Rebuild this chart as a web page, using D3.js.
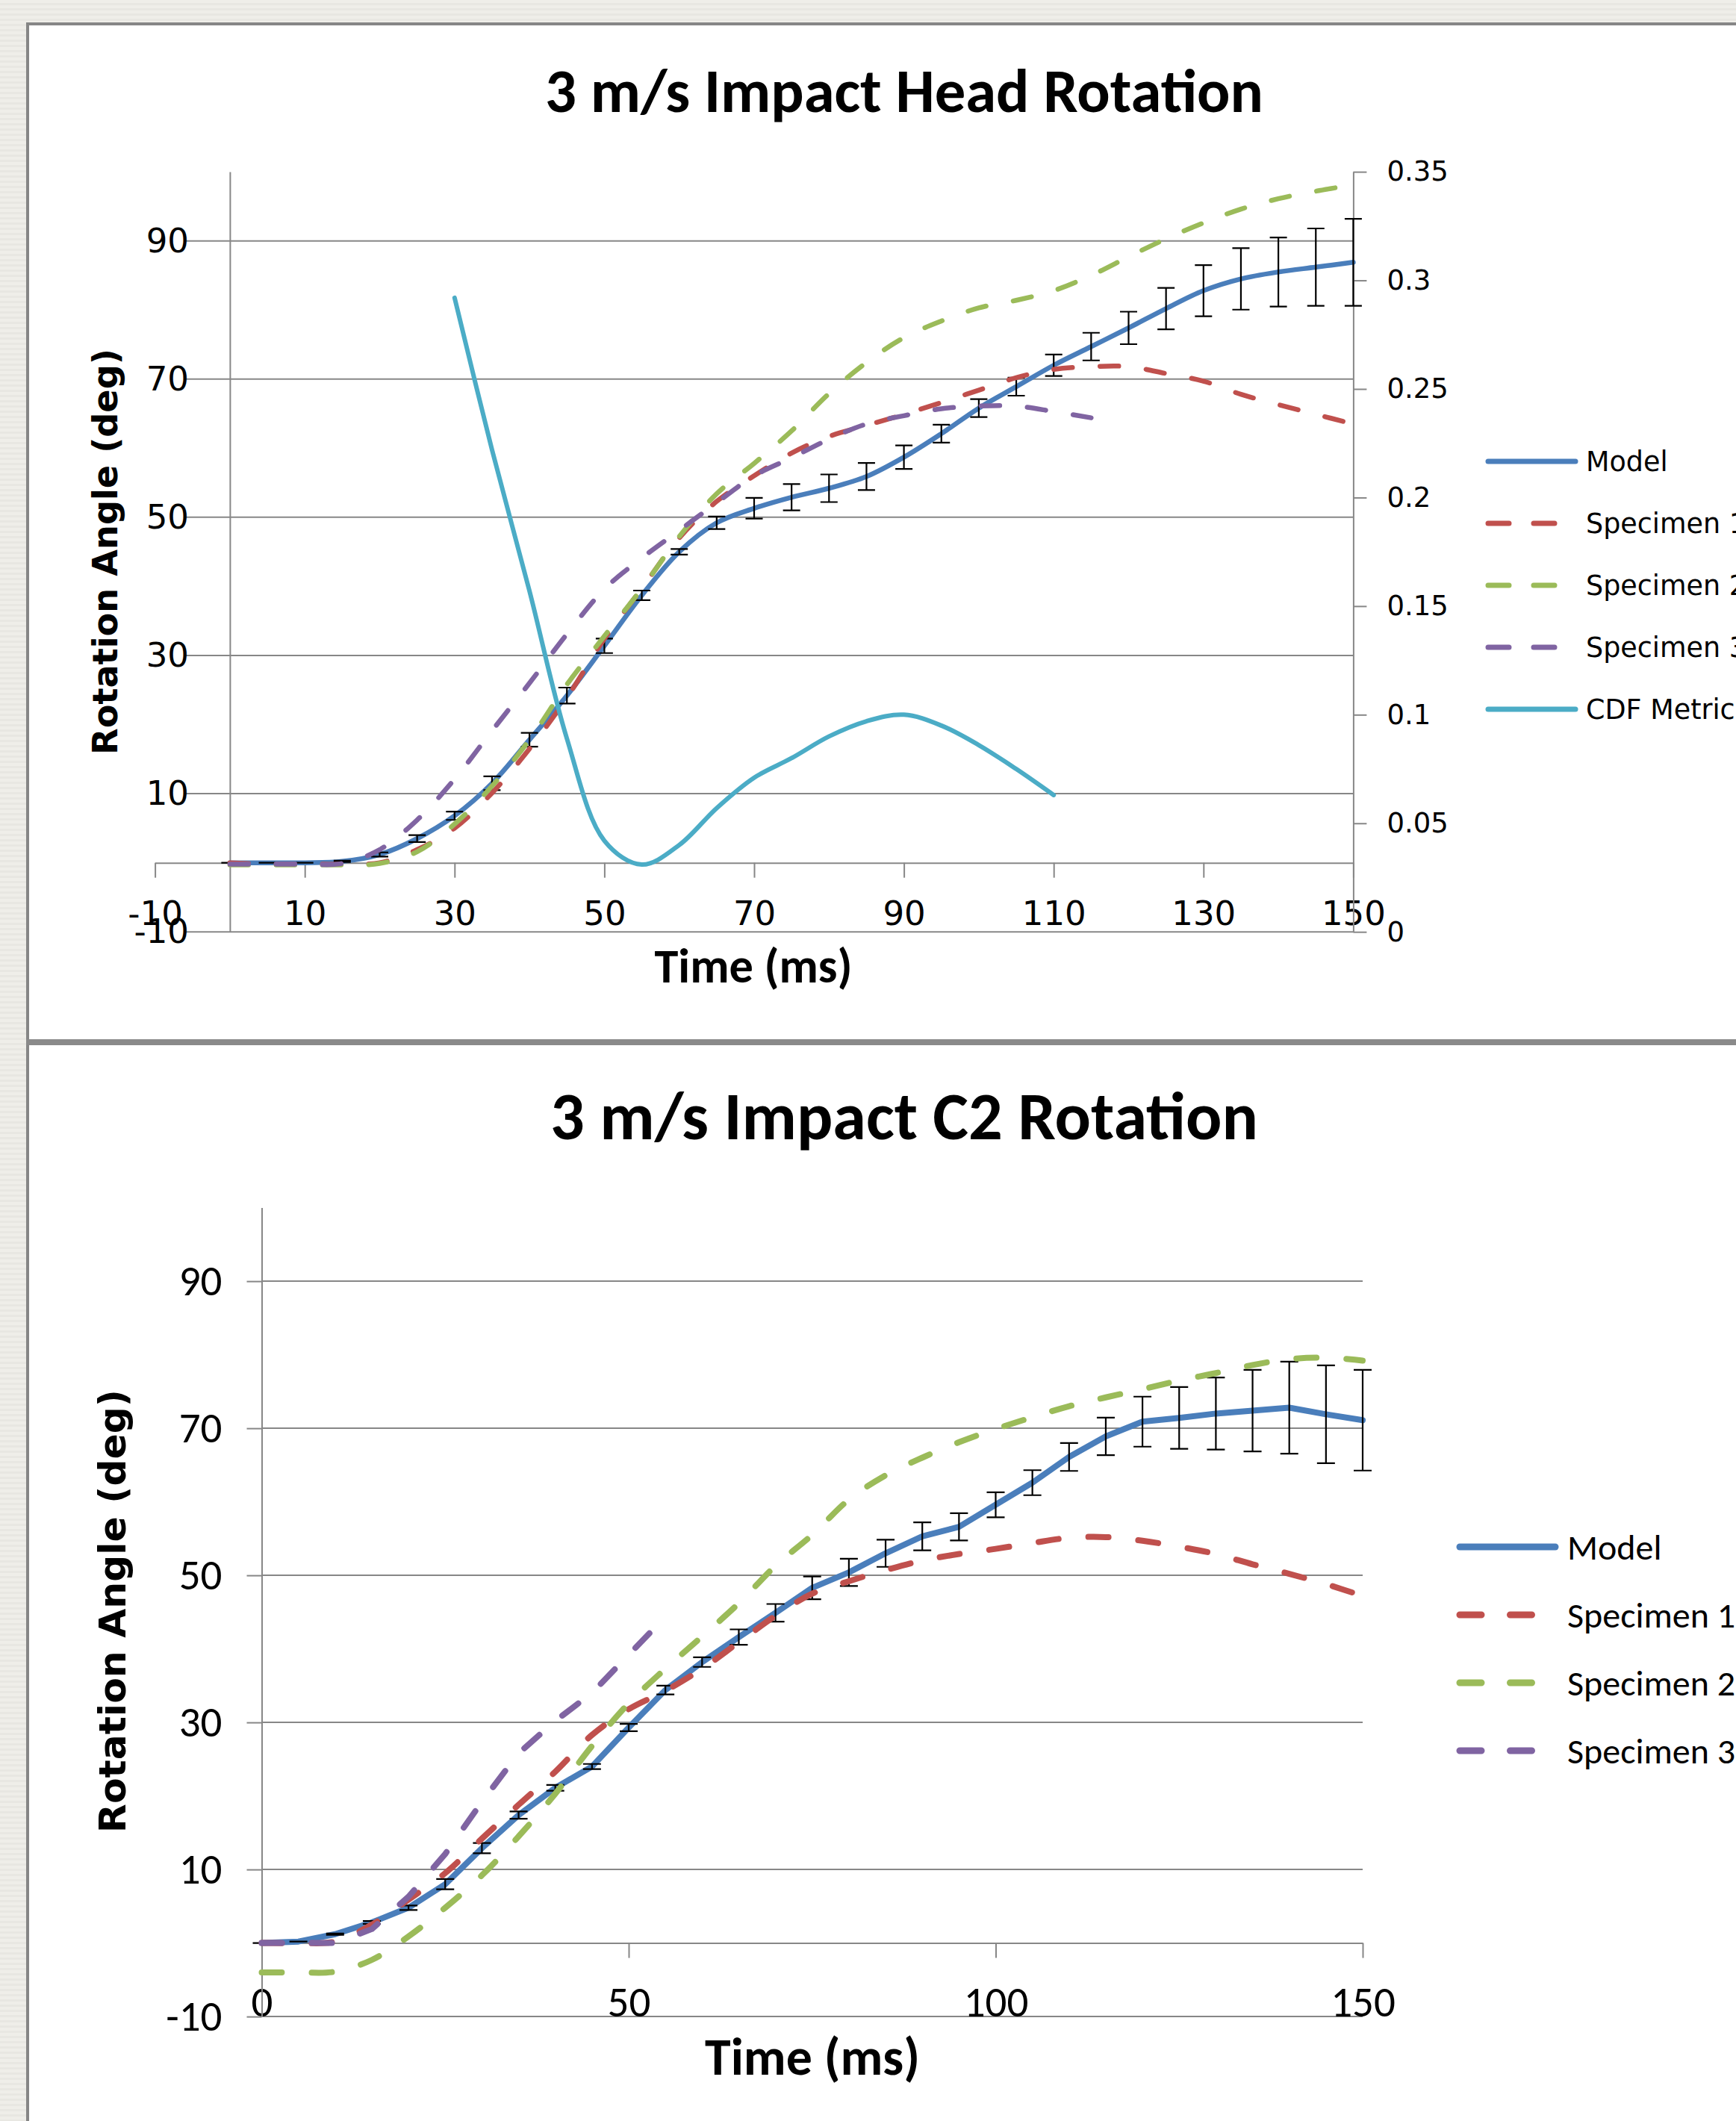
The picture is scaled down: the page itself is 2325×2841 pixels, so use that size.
<!DOCTYPE html>
<html>
<head>
<meta charset="utf-8">
<script src="https://cdn.jsdelivr.net/npm/d3@7"></script>
<style>
  html, body { margin: 0; padding: 0; background: #edece7; }
  svg { display: block; }
</style>
</head>
<body>
<svg id="chart" width="2325" height="2841"></svg>
<script>
// ---- Data: 3 m/s impact, head rotation (top chart) ----
var headTime = [0,5,10,15,20,25,30,35,40,45,50,55,60,65,70,75,80,85,90,95,100,105,110,115,120,125,130,135,140,145,150];
var headModel = [0,0,0,0.2,1.2,3.5,6.8,11.5,17.8,24.2,31.4,38.7,45,49.2,51.3,52.9,54.2,55.9,58.7,62.1,65.8,68.9,72,74.7,77.4,80.2,82.8,84.5,85.5,86.2,86.9];
var headModelErr = [0,0,0,0.1,0.3,0.5,0.6,1,1,1.15,1.05,0.7,0.4,0.9,1.5,1.9,2,1.95,1.7,1.3,1.3,1.3,1.55,2,2.35,3,3.7,4.45,5,5.6,6.3];
var headSpec1 = [0,-0.2,-0.2,-0.2,0,1.9,5,10.1,16.5,23.9,32.4,39.7,47,52.3,56,59.3,61.7,63.3,64.9,66.6,68.4,70.2,71.4,71.8,71.8,70.8,69.7,67.8,66.3,64.9,63.5];
var headSpec2 = [-0.3,-0.3,-0.3,-0.3,-0.1,1.6,5.6,11.1,17.8,25.8,32.8,39.7,47.2,53.4,57.8,62.5,67.9,72.4,76,78.4,80.3,81.4,82.8,85,87.7,90.3,92.6,94.6,96.1,97.2,98.1];
var headSpec3Time = [0,5,10,15,20,25,30,35,40,45,50,55,60,65,70,75,80,85,90,95,100,105,110,115];
var headSpec3 = [-0.2,-0.2,-0.2,-0.1,1.9,6.2,12.1,19.1,26,33.1,39.6,44.1,48.1,52.1,56,58.6,61.3,63.5,64.7,65.7,66.1,66.1,65.3,64.4];
var cdfTime = [30,35,40,45,50,55,60,65,70,75,80,85,90,95,100,105,110];
var cdfMetric = [0.292,0.222,0.157,0.089,0.042,0.031,0.040,0.057,0.071,0.080,0.090,0.097,0.100,0.095,0.086,0.075,0.063];

var headXTicks = [-10,10,30,50,70,90,110,130,150];
var headYTicks = [-10,10,30,50,70,90];
var cdfTicks = [0,0.05,0.1,0.15,0.2,0.25,0.3,0.35];
var headLegend = ["Model","Specimen 1","Specimen 2","Specimen 3","CDF Metric"];

// ---- Data: 3 m/s impact, C2 rotation (bottom chart) ----
var c2Time = [0,5,10,15,20,25,30,35,40,45,50,55,60,65,70,75,80,85,90,95,100,105,110,115,120,125,130,135,140,145,150];
var c2Model = [0,0.2,1.2,2.8,4.8,8,12.9,17.4,21.1,24,29.3,34.4,38.2,41.6,44.9,48.3,50.4,53,55.3,56.6,59.6,62.6,66.1,68.9,70.9,71.4,72,72.4,72.8,71.9,71.1];
var c2ModelErr = [0,0,0.1,0.2,0.3,0.7,0.7,0.5,0.4,0.35,0.5,0.6,0.65,1.05,1.2,1.55,1.85,1.85,1.9,1.85,1.7,1.7,1.9,2.55,3.4,4.2,4.9,5.55,6.25,6.65,6.85];
var c2Spec1 = [0,0,0.2,2.5,5.9,9.5,14.2,18.8,23.3,28.3,31.8,34.3,37.3,40.9,44.5,47.5,49.2,50.7,52,52.9,53.6,54.4,55.1,55.2,54.7,53.9,52.9,51.5,50.2,48.8,47.2];
var c2Spec2 = [-4,-4,-3.9,-2.3,0.9,4.8,9.2,14.5,20.3,26.8,32.6,37.3,41.7,46.2,51.3,55.5,60.3,63.6,66,68.1,69.9,71.5,73,74.2,75.3,76.5,77.5,78.6,79.4,79.6,79.2];
var c2Spec3Time = [0,5,10,15,20,25,30,35,40,45,50,53];
var c2Spec3 = [0,0,0,1.9,6.3,12.1,19.2,25.8,30.2,34,39.2,42.3];

var c2XTicks = [0,50,100,150];
var c2YTicks = [-10,10,30,50,70,90];
var c2Legend = ["Model","Specimen 1","Specimen 2","Specimen 3"];

// ---- Styles ----
var colors = {model: "#4a7ebb", spec1: "#c0504d", spec2: "#9bbb59", spec3: "#8064a2", cdf: "#4bacc6"};
var GRID = "#878787";
var CAL = "Carlito, Lato, 'Open Sans', sans-serif";
var VER = "'DejaVu Sans', Verdana, sans-serif";
var plain = d => String(d);   // keep the hyphen minus like the original

var svg = d3.select("#chart");

// page background + frame
var defs = svg.append("defs");
var pat = defs.append("pattern").attr("id", "bg").attr("width", 8).attr("height", 7)
    .attr("patternUnits", "userSpaceOnUse");
pat.append("rect").attr("width", 8).attr("height", 7).attr("fill", "#efeee9");
pat.append("rect").attr("y", 4).attr("width", 8).attr("height", 3).attr("fill", "#e8e7e2");
svg.append("rect").attr("width", 2325).attr("height", 2841).attr("fill", "url(#bg)");
svg.append("rect").attr("x", 39).attr("y", 34).attr("width", 2286).attr("height", 2807).attr("fill", "#fff");
svg.append("rect").attr("x", 35).attr("y", 30).attr("width", 2290).attr("height", 4).attr("fill", "#868686");
svg.append("rect").attr("x", 35).attr("y", 30).attr("width", 4).attr("height", 2811).attr("fill", "#868686");
svg.append("rect").attr("x", 35).attr("y", 1392).attr("width", 2290).attr("height", 8).attr("fill", "#8a8a8a");

// scale a text's font-size so that it spans w pixels
function fitWidth(t, w) {
  var len = t.node().getComputedTextLength();
  t.attr("font-size", parseFloat(t.attr("font-size")) * w / len);
  return t;
}

function styleAxis(a, font, size) {
  a.selectAll(".domain, .tick line").attr("stroke", GRID).attr("stroke-width", 2);
  a.selectAll("text").attr("font-family", font).attr("font-size", size).attr("fill", "#000");
}

function drawLine(g, x, y, xs, ys, color, width, dash, curve) {
  var line = d3.line().x(d => x(d[0])).y(d => y(d[1])).curve(curve);
  g.append("path")
      .datum(d3.zip(xs, ys))
      .attr("d", line)
      .attr("fill", "none")
      .attr("stroke", color)
      .attr("stroke-width", width)
      .attr("stroke-linecap", "round")
      .attr("stroke-linejoin", "round")
      .attr("stroke-dasharray", dash);
}

function drawErrors(g, x, y, xs, ys, es, cap) {
  g.append("g").selectAll("path")
    .data(d3.zip(xs, ys, es))
    .join("path")
      .attr("d", function(d) {
        var cx = x(d[0]), y0 = y(d[1] - d[2]), y1 = y(d[1] + d[2]);
        return "M" + cx + "," + y0 + "V" + y1 +
               "M" + (cx - cap) + "," + y1 + "H" + (cx + cap) +
               "M" + (cx - cap) + "," + y0 + "H" + (cx + cap);
      })
      .attr("fill", "none")
      .attr("stroke", "#000")
      .attr("stroke-width", 2.2);
}

var smooth = d3.curveCatmullRom.alpha(0.5);

// ================= Top chart: head rotation =================
(function() {
  var g = svg.append("g");
  var x = d3.scaleLinear().domain([-10, 150]).range([207.6, 1812.4]);
  var y = d3.scaleLinear().domain([-10, 100]).range([1248.2, 230.1]);
  var y2 = d3.scaleLinear().domain([0, 0.35]).range([1248.2, 230.1]);

  // horizontal gridlines
  g.append("g").selectAll("line")
    .data(headYTicks)
    .join("line")
      .attr("x1", 248).attr("x2", x(150))
      .attr("y1", d => y(d)).attr("y2", d => y(d))
      .attr("stroke", GRID).attr("stroke-width", 2);

  var ax = g.append("g")
      .attr("transform", "translate(0," + y(0) + ")")
      .call(d3.axisBottom(x).tickValues(headXTicks).tickFormat(plain)
              .tickSize(20).tickSizeOuter(0).tickPadding(31));
  styleAxis(ax, VER, 45);

  var ay = g.append("g")
      .attr("transform", "translate(" + x(0) + ",0)")
      .call(d3.axisLeft(y).tickValues(headYTicks).tickFormat(plain)
              .tickSize(0).tickSizeOuter(0).tickPadding(55));
  styleAxis(ay, VER, 45);

  var ay2 = g.append("g")
      .attr("transform", "translate(" + x(150) + ",0)")
      .call(d3.axisRight(y2).tickValues(cdfTicks).tickSize(18).tickSizeOuter(0).tickPadding(27)
              .tickFormat(d => String(+d.toFixed(2))));
  styleAxis(ay2, VER, 37);

  // series
  drawLine(g, x, y, headTime, headModel, colors.model, 6.5, null, smooth);
  drawErrors(g, x, y, headTime, headModel, headModelErr, 11.5);
  drawLine(g, x, y, headTime, headSpec1, colors.spec1, 6.5, "25,37", smooth);
  drawLine(g, x, y, headTime, headSpec2, colors.spec2, 6.5, "25,37", smooth);
  drawLine(g, x, y, headSpec3Time, headSpec3, colors.spec3, 6.5, "25,37", smooth);
  drawLine(g, x, y2, cdfTime, cdfMetric, colors.cdf, 6, null, smooth);

  // titles
  fitWidth(g.append("text").attr("x", 1211).attr("y", 150).attr("text-anchor", "middle")
      .attr("font-family", CAL).attr("font-weight", "bold").attr("font-size", 84)
      .text("3 m/s Impact Head Rotation"), 962);
  fitWidth(g.append("text").attr("x", 1009).attr("y", 1316).attr("text-anchor", "middle")
      .attr("font-family", CAL).attr("font-weight", "bold").attr("font-size", 60)
      .text("Time (ms)"), 265);
  fitWidth(g.append("text").attr("transform", "translate(141,739) rotate(-90)")
      .attr("text-anchor", "middle").attr("dominant-baseline", "central")
      .attr("font-family", VER).attr("font-weight", "bold").attr("font-size", 46)
      .text("Rotation Angle (deg)"), 544);

  // legend
  var keys = [colors.model, colors.spec1, colors.spec2, colors.spec3, colors.cdf];
  var lg = g.append("g").selectAll("g")
    .data(headLegend)
    .join("g")
      .attr("transform", (d, i) => "translate(0," + (618 + i * 83) + ")");
  lg.append("line")
      .attr("x1", 1993).attr("x2", (d, i) => (i === 0 || i === 4) ? 2110 : 2084)
      .attr("stroke", (d, i) => keys[i])
      .attr("stroke-width", 7)
      .attr("stroke-linecap", "round")
      .attr("stroke-dasharray", (d, i) => (i === 0 || i === 4) ? null : "28,33");
  lg.append("text")
      .attr("x", 2124).attr("dy", "0.36em")
      .attr("font-family", VER).attr("font-size", 36.5)
      .text(d => d);
})();

// ================= Bottom chart: C2 rotation =================
(function() {
  var g = svg.append("g");
  var x = d3.scaleLinear().domain([0, 150]).range([350.5, 1825]);
  var y = d3.scaleLinear().domain([-10, 100]).range([2701.1, 1617.6]);

  g.append("g").selectAll("line")
    .data(c2YTicks)
    .join("line")
      .attr("x1", x(0)).attr("x2", x(150))
      .attr("y1", d => y(d)).attr("y2", d => y(d))
      .attr("stroke", GRID).attr("stroke-width", 2);

  var ax = g.append("g")
      .attr("transform", "translate(0," + y(0) + ")")
      .call(d3.axisBottom(x).tickValues(c2XTicks).tickFormat(plain)
              .tickSize(20).tickSizeOuter(0).tickPadding(38));
  styleAxis(ax, CAL, 57);

  var ay = g.append("g")
      .attr("transform", "translate(" + x(0) + ",0)")
      .call(d3.axisLeft(y).tickValues(c2YTicks).tickFormat(plain)
              .tickSize(20).tickSizeOuter(0).tickPadding(33));
  styleAxis(ay, CAL, 57);

  drawLine(g, x, y, c2Time, c2Model, colors.model, 8, null, d3.curveLinear);
  drawErrors(g, x, y, c2Time, c2Model, c2ModelErr, 12);
  drawLine(g, x, y, c2Time, c2Spec1, colors.spec1, 8, "27,40", smooth);
  drawLine(g, x, y, c2Time, c2Spec2, colors.spec2, 8, "27,40", smooth);
  drawLine(g, x, y, c2Spec3Time, c2Spec3, colors.spec3, 8, "27,40", d3.curveLinear);

  fitWidth(g.append("text").attr("x", 1211).attr("y", 1526).attr("text-anchor", "middle")
      .attr("font-family", CAL).attr("font-weight", "bold").attr("font-size", 84)
      .text("3 m/s Impact C2 Rotation"), 948);
  fitWidth(g.append("text").attr("x", 1088).attr("y", 2779).attr("text-anchor", "middle")
      .attr("font-family", CAL).attr("font-weight", "bold").attr("font-size", 64)
      .text("Time (ms)"), 288);
  fitWidth(g.append("text").attr("transform", "translate(150,2158) rotate(-90)")
      .attr("text-anchor", "middle").attr("dominant-baseline", "central")
      .attr("font-family", VER).attr("font-weight", "bold").attr("font-size", 50)
      .text("Rotation Angle (deg)"), 594);

  var keys = [colors.model, colors.spec1, colors.spec2, colors.spec3];
  var lg = g.append("g").selectAll("g")
    .data(c2Legend)
    .join("g")
      .attr("transform", (d, i) => "translate(0," + (2072 + i * 91) + ")");
  lg.append("line")
      .attr("x1", 1955).attr("x2", (d, i) => i === 0 ? 2083 : 2052)
      .attr("stroke", (d, i) => keys[i])
      .attr("stroke-width", 9)
      .attr("stroke-linecap", "round")
      .attr("stroke-dasharray", (d, i) => i === 0 ? null : "29,38.5");
  lg.append("text")
      .attr("x", 2099).attr("dy", "0.36em")
      .attr("font-family", CAL).attr("font-size", 48)
      .text(d => d);
})();
</script>
</body>
</html>
